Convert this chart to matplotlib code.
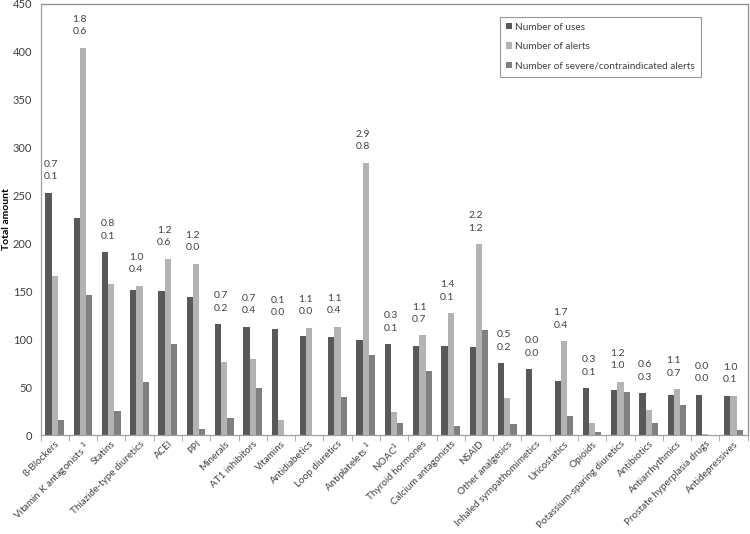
import numpy as np
import matplotlib
matplotlib.use("Agg")
import matplotlib.pyplot as plt

plt.rcParams['font.family'] = ['Lato', 'DejaVu Sans']

# --- data ---
categories = [
    "ß-Blockers", "Vitamin K antagonists $^1$", "Statins", "Thiazide-type diuretics",
    "ACEI", "PPI", "Minerals", "AT1 inhibitors", "Vitamins", "Antidiabetics",
    "Loop diuretics", "Antiplatelets $^1$", "NOAC$^1$", "Thyroid hormones",
    "Calcium antagonists", "NSAID", "Other analgesics", "Inhaled sympathomimetics",
    "Uricostatics", "Opioids", "Potassium-sparing diuretics", "Antibiotics",
    "Antiarrhythmics", "Prostate hyperplasia drugs", "Antidepressives",
]
uses = [253, 227, 191, 151, 150, 144, 116, 113, 111, 103, 102, 99, 95, 93, 93, 92,
        75, 69, 57, 49, 47, 44, 42, 42, 41]
alerts = [166, 404, 158, 156, 184, 179, 76, 80, 16, 112, 113, 284, 24, 104, 127, 199,
          39, 0, 98, 13, 56, 26, 48, 1, 41]
severe = [16, 146, 25, 55, 95, 6, 18, 49, 0, 0, 40, 84, 13, 67, 10, 110,
          12, 0, 20, 3, 45, 13, 31, 0, 5]
ratio_top = ["0.7", "1.8", "0.8", "1.0", "1.2", "1.2", "0.7", "0.7", "0.1", "1.1",
             "1.1", "2.9", "0.3", "1.1", "1.4", "2.2", "0.5", "0.0", "1.7", "0.3",
             "1.2", "0.6", "1.1", "0.0", "1.0"]
ratio_bottom = ["0.1", "0.6", "0.1", "0.4", "0.6", "0.0", "0.2", "0.4", "0.0", "0.0",
                "0.4", "0.8", "0.1", "0.7", "0.1", "1.2", "0.2", "0.0", "0.4", "0.1",
                "1.0", "0.3", "0.7", "0.0", "0.1"]
series_names = ["Number of uses", "Number of alerts",
                "Number of severe/contraindicated alerts"]
colors = ["#595959", "#b3b3b3", "#808080"]

fig = plt.figure(figsize=(7.5, 5.34), dpi=100)
ax = fig.add_axes([0.054, 0.185, 0.943, 0.808])

x = np.arange(len(categories))
w = 0.22
for i, (vals, name, c) in enumerate(zip([uses, alerts, severe], series_names, colors)):
    ax.bar(x + (i - 1) * w, vals, width=w, color=c, label=name, zorder=2)

txt_color = "#404040"
for xi, u, a, s, t, b in zip(x, uses, alerts, severe, ratio_top, ratio_bottom):
    top = max(u, a, s)
    ax.annotate(b, (xi - 0.12, top), xytext=(0, 11.5), textcoords="offset points",
                ha="center", va="center", fontsize=7.5, color=txt_color)
    ax.annotate(t, (xi - 0.12, top), xytext=(0, 20.5), textcoords="offset points",
                ha="center", va="center", fontsize=7.5, color=txt_color)

ax.set_xlim(-0.5, len(categories) - 0.5)
ax.set_ylim(0, 450)
ax.set_yticks(np.arange(0, 451, 50))
ax.set_xticks(x)
ax.set_xticklabels(categories, rotation=45, ha="right", rotation_mode="anchor",
                   fontsize=7.1, color=txt_color)
ax.set_xticks(np.arange(-0.5, len(categories), 1), minor=True)
ax.tick_params(axis="x", which="major", length=0, pad=3)
ax.tick_params(axis="x", which="minor", length=4, color="#a0a0a0")
ax.tick_params(axis="y", length=0, labelsize=8, labelcolor=txt_color, pad=6)

for side in ["top", "right", "left", "bottom"]:
    ax.spines[side].set_color("#a0a0a0")
    ax.spines[side].set_linewidth(0.9)
ax.spines["top"].set_color("#8c8c8c")
ax.spines["right"].set_color("#8c8c8c")

ax.set_ylabel("Total amount", fontsize=7.5, fontweight="bold", labelpad=1)

leg = ax.legend(loc="upper right", bbox_to_anchor=(0.934, 0.970), fontsize=7.2,
                frameon=True, fancybox=False, handlelength=0.6, handleheight=0.6,
                handletextpad=0.3, labelspacing=1.05, borderpad=0.6,
                borderaxespad=0, labelcolor=txt_color)
leg.get_frame().set_edgecolor("#808080")
leg.get_frame().set_linewidth(0.8)

fig.savefig("out.png", dpi=100)
